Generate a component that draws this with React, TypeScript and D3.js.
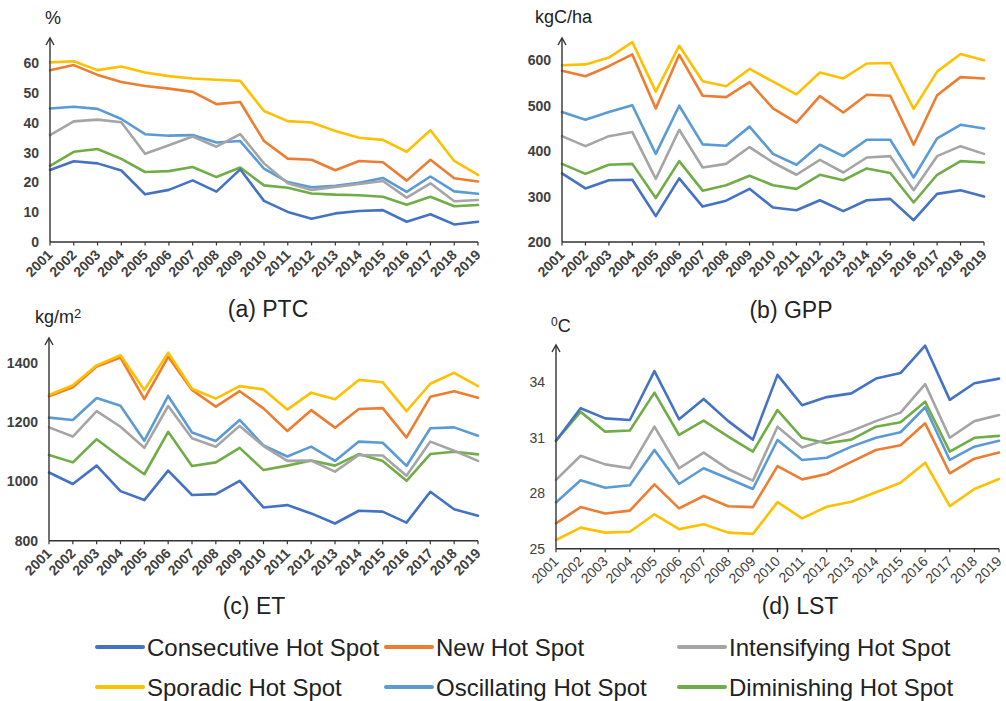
import React from "react";
import * as d3 from "d3";

const years = [2001,2002,2003,2004,2005,2006,2007,2008,2009,2010,2011,2012,2013,2014,2015,2016,2017,2018,2019];

const seriesNames = ["Consecutive Hot Spot","New Hot Spot","Intensifying Hot Spot","Sporadic Hot Spot","Oscillating Hot Spot","Diminishing Hot Spot"];
const seriesColors = ["#4472C4","#ED7D31","#A5A5A5","#FFC000","#5B9BD5","#70AD47"];

// (a) PTC, %
const ptcConsecutive = [24.2,27.1,26.4,24.0,16.0,17.5,20.7,16.9,24.4,13.8,10.1,7.8,9.6,10.4,10.7,6.8,9.3,5.9,6.8];
const ptcNew = [57.7,59.4,56.1,53.7,52.4,51.5,50.4,46.3,47.0,33.9,28.0,27.6,24.1,27.2,26.8,20.6,27.6,21.4,20.3];
const ptcIntensifying = [35.9,40.5,41.1,40.2,29.6,32.5,35.4,32.0,36.2,26.4,19.7,17.5,18.5,19.5,20.5,14.9,19.7,13.7,14.1];
const ptcSporadic = [60.3,60.7,57.7,58.9,56.9,55.7,54.9,54.5,54.1,44.0,40.6,40.1,37.3,35.0,34.3,30.3,37.5,27.2,22.5];
const ptcOscillating = [44.8,45.4,44.7,41.3,36.2,35.7,35.9,33.4,33.9,24.6,20.1,18.4,18.9,19.9,21.5,16.8,22.0,17.0,16.2];
const ptcDiminishing = [25.6,30.3,31.2,27.9,23.5,23.8,25.2,21.8,25.0,19.0,18.2,16.3,15.9,15.7,15.2,12.5,15.2,12.0,12.4];
const ptcTicks = [0,10,20,30,40,50,60];

// (b) GPP, kgC/ha
const gppConsecutive = [351,318,336,337,257,340,278,291,317,276,270,292,268,292,295,248,306,314,300];
const gppNew = [577,565,587,613,494,612,522,519,552,494,463,521,485,524,522,414,523,563,560];
const gppIntensifying = [433,411,433,442,339,447,364,372,409,375,348,381,353,386,389,314,389,411,394];
const gppSporadic = [589,591,606,640,531,632,554,543,581,553,525,573,560,593,594,493,575,614,600];
const gppOscillating = [486,469,486,501,394,500,415,412,454,394,370,414,389,425,425,342,428,458,450];
const gppDiminishing = [372,350,370,372,297,378,313,325,346,325,317,348,336,362,352,287,348,378,375];
const gppTicks = [200,300,400,500,600];

// (c) ET, kg/m2
const etConsecutive = [1030,991,1053,967,937,1036,954,957,1002,912,920,892,858,901,898,861,965,906,884];
const etNew = [1287,1317,1387,1417,1277,1420,1308,1252,1304,1246,1170,1240,1181,1244,1247,1148,1285,1304,1282];
const etIntensifying = [1182,1151,1237,1184,1113,1254,1145,1117,1187,1119,1069,1070,1033,1089,1087,1019,1134,1103,1069];
const etSporadic = [1291,1324,1391,1425,1308,1434,1312,1279,1321,1310,1242,1299,1277,1342,1334,1237,1329,1366,1321];
const etOscillating = [1215,1207,1281,1255,1137,1288,1165,1136,1207,1121,1084,1117,1069,1134,1130,1052,1179,1182,1154];
const etDiminishing = [1089,1064,1142,1081,1024,1167,1052,1064,1113,1038,1053,1070,1053,1092,1069,1002,1092,1100,1091];
const etTicks = [800,1000,1200,1400];

// (d) LST, degC
const lstConsecutive = [30.84,32.6,32.05,31.96,34.6,32.0,33.1,31.9,30.9,34.4,32.76,33.2,33.4,34.2,34.5,35.98,33.05,33.95,34.2];
const lstNew = [26.37,27.25,26.9,27.06,28.48,27.18,27.85,27.3,27.25,29.47,28.75,29.04,29.7,30.34,30.6,31.78,29.08,29.87,30.2];
const lstIntensifying = [28.72,30.03,29.56,29.35,31.6,29.35,30.2,29.3,28.68,31.6,30.47,30.9,31.37,31.9,32.36,33.9,31.0,31.9,32.23];
const lstSporadic = [25.47,26.14,25.87,25.92,26.86,26.06,26.32,25.87,25.8,27.52,26.64,27.27,27.54,28.05,28.57,29.65,27.3,28.23,28.77];
const lstOscillating = [27.5,28.7,28.3,28.43,30.34,28.5,29.35,28.8,28.23,30.88,29.8,29.92,30.52,31.0,31.3,32.65,29.8,30.52,30.84];
const lstDiminishing = [30.84,32.4,31.33,31.39,33.44,31.15,31.93,31.06,30.25,32.5,31.0,30.7,30.9,31.6,31.84,32.95,30.25,31.0,31.1];
const lstTicks = [25,28,31,34];

const FONT = "'Liberation Sans', Arial, sans-serif";

type PanelProps = {
  series: number[][];
  ticks: number[];
  domain: [number, number];
  x0: number; x1: number;
  yBottom: number; yTop: number; arrowTop: number;
  unit: React.ReactNode;
  unitX: number; unitY: number;
  title: string; titleX: number; titleY: number;
  tickBold?: boolean;
};

function Panel(p: PanelProps) {
  const x = d3.scalePoint<number>().domain(years).range([p.x0, p.x1]);
  const y = d3.scaleLinear().domain(p.domain).range([p.yBottom, p.yTop]);
  const line = d3.line<number>().x((_, i) => x(years[i]) as number).y((d) => y(d));
  const order = [5, 4, 2, 1, 3, 0];
  return (
    <g>
      {order.map((si) => (
        <path key={si} d={line(p.series[si]) || ""} fill="none" stroke={seriesColors[si]}
          strokeWidth={2.6} strokeLinejoin="round" strokeLinecap="round" />
      ))}
      {/* x axis */}
      <line x1={p.x0} x2={p.x1} y1={p.yBottom} y2={p.yBottom} stroke="#333" strokeWidth={1.4} />
      {years.map((yr) => (
        <g key={yr}>
          <line x1={x(yr)} x2={x(yr)} y1={p.yBottom} y2={p.yBottom + 3.5} stroke="#333" strokeWidth={1.2} />
          <text transform={`translate(${(x(yr) as number) + 1},${p.yBottom + 11}) rotate(-45)`}
            textAnchor="end" dominantBaseline="middle" fontFamily={FONT} fontSize={14}
            fontWeight={p.tickBold ? "bold" : "normal"} fill="#404040">{yr}</text>
        </g>
      ))}
      {/* y axis with arrow */}
      <line x1={p.x0} x2={p.x0} y1={p.yBottom} y2={p.arrowTop} stroke="#333" strokeWidth={1.4} />
      <path d={`M${p.x0 - 4},${p.arrowTop + 7} L${p.x0},${p.arrowTop} L${p.x0 + 4},${p.arrowTop + 7}`}
        fill="none" stroke="#333" strokeWidth={1.4} />
      {p.ticks.map((t) => (
        <text key={t} x={p.x0 - 11} y={y(t)} textAnchor="end" dominantBaseline="central"
          fontFamily={FONT} fontSize={14} fontWeight={p.tickBold ? "bold" : "normal"} fill="#404040">{t}</text>
      ))}
      <text x={p.unitX} y={p.unitY} fontFamily={FONT} fontSize={18} fill="#222">{p.unit}</text>
      <text x={p.titleX} y={p.titleY} textAnchor="middle" fontFamily={FONT} fontSize={23} fill="#222">{p.title}</text>
    </g>
  );
}

const legendX = [97, 386, 679];
const legendY = [647, 687];

export default function App() {
  return (
    <svg width={1006} height={701} style={{ position: "absolute", left: 0, top: 0, background: "#fff" }}>
      <rect width={1006} height={701} fill="#fff" />
      <Panel series={[ptcConsecutive, ptcNew, ptcIntensifying, ptcSporadic, ptcOscillating, ptcDiminishing]}
        ticks={ptcTicks} domain={[0, 60]} x0={50} x1={478} yBottom={242} yTop={63.3} arrowTop={38}
        unit="%" unitX={45} unitY={24} title="(a) PTC" titleX={268} titleY={317} tickBold />
      <Panel series={[gppConsecutive, gppNew, gppIntensifying, gppSporadic, gppOscillating, gppDiminishing]}
        ticks={gppTicks} domain={[200, 600]} x0={562} x1={984} yBottom={242} yTop={60.3} arrowTop={38}
        unit="kgC/ha" unitX={535} unitY={23} title="(b) GPP" titleX={791} titleY={318} tickBold />
      <Panel series={[etConsecutive, etNew, etIntensifying, etSporadic, etOscillating, etDiminishing]}
        ticks={etTicks} domain={[800, 1400]} x0={49} x1={478} yBottom={540.7} yTop={362.7} arrowTop={338}
        unit={<><tspan>kg/m</tspan><tspan fontSize={13} dy={-5}>2</tspan></>} unitX={35} unitY={323}
        title="(c) ET" titleX={254} titleY={614} tickBold />
      <Panel series={[lstConsecutive, lstNew, lstIntensifying, lstSporadic, lstOscillating, lstDiminishing]}
        ticks={lstTicks} domain={[25, 34]} x0={556} x1={999} yBottom={548.7} yTop={382.3} arrowTop={345}
        unit={<><tspan fontSize={12} dy={-6}>0</tspan><tspan dy={6}>C</tspan></>} unitX={551} unitY={332}
        title="(d) LST" titleX={800} titleY={614} />
      {seriesNames.map((name, i) => {
        const lx = legendX[i < 3 ? i : i - 3];
        const ly = legendY[i < 3 ? 0 : 1];
        return (
          <g key={name}>
            <line x1={lx} x2={lx + 46} y1={ly} y2={ly} stroke={seriesColors[i]} strokeWidth={4} strokeLinecap="round" />
            <text x={lx + 50} y={ly} dominantBaseline="central" fontFamily={FONT} fontSize={24} fill="#222">{name}</text>
          </g>
        );
      })}
    </svg>
  );
}
